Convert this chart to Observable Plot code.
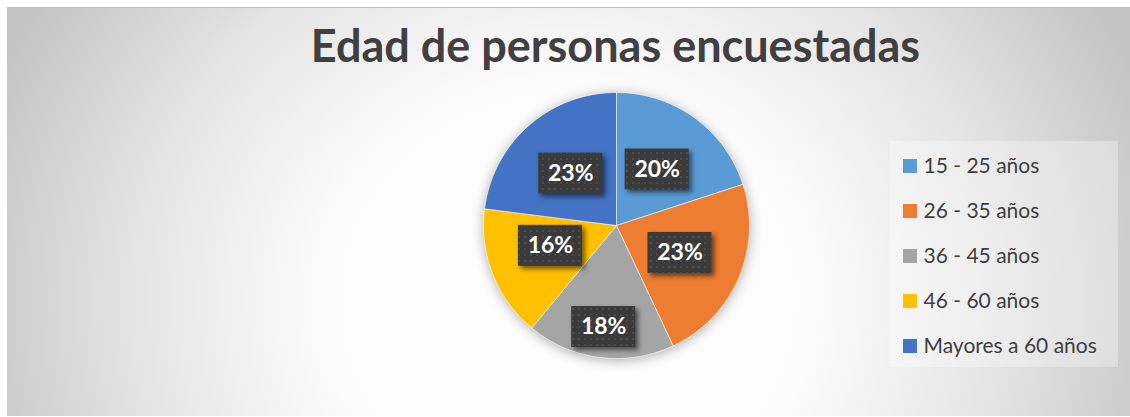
<!DOCTYPE html>
<html>
<head>
<meta charset="utf-8">
<script src="https://cdn.jsdelivr.net/npm/d3@7"></script>
<script src="https://cdn.jsdelivr.net/npm/@observablehq/plot@0.6"></script>
<style>
  html, body { margin: 0; padding: 0; background: #ffffff; }
  #chart { position: relative; width: 1130px; height: 417px; overflow: hidden; }
  #bg {
    position: absolute; left: 7px; top: 7px; width: 1123px; height: 409px;
    box-sizing: border-box;
    border-top: 1.5px solid #bdbdbd;
    background: radial-gradient(ellipse 620px 560px at 561px 293px, #ffffff 0%, #fbfbfb 40%, #e4e4e4 70%, #c4c4c4 100%);
  }
  #chart svg { position: absolute; left: 0; top: 0; }
</style>
</head>
<body>
<div id="chart"><div id="bg"></div></div>
<script>
// ---- data ----
const categories = ["15 - 25 años", "26 - 35 años", "36 - 45 años", "46 - 60 años", "Mayores a 60 años"];
const percentages = [20, 23, 18, 16, 23];
const sliceColors = ["#5B9BD5", "#ED7D31", "#A5A5A5", "#FFC000", "#4472C4"];
const chartTitle = "Edad de personas encuestadas";

// ---- layout constants ----
const W = 1130, H = 417;
const cx = 616, cy = 225, R = 133;
const boxW = 64, boxH = 41;
const legendX = 903, legendTop = 166, rowH = 45, swatch = 14;

const rows = categories.map((c, i) => ({category: c, value: percentages[i]}));
const arcs = d3.pie().sort(null).value(d => d.value)(rows);

// slice outlines (polygon approximations of each wedge)
const slicePts = [];
for (const a of arcs) {
  const n = Math.max(2, Math.ceil((a.endAngle - a.startAngle) / (Math.PI / 180)));
  slicePts.push({category: a.data.category, x: cx, y: cy});
  for (let k = 0; k <= n; k++) {
    const t = a.startAngle + (a.endAngle - a.startAngle) * k / n;
    slicePts.push({category: a.data.category, x: cx + R * Math.sin(t), y: cy - R * Math.cos(t)});
  }
  slicePts.push({category: a.data.category, x: cx, y: cy});
}

// Excel-like "best fit" label placement
function corners(ang, d) {
  const x = Math.sin(ang) * d, y = -Math.cos(ang) * d;
  return [[x - boxW/2, y - boxH/2], [x + boxW/2, y - boxH/2], [x + boxW/2, y + boxH/2], [x - boxW/2, y + boxH/2]];
}
function rel(p, mid) {
  let t = Math.atan2(p[0], -p[1]) - mid;
  while (t > Math.PI) t -= 2 * Math.PI;
  while (t <= -Math.PI) t += 2 * Math.PI;
  return t;
}
function placeLabel(a) {
  const mid = (a.startAngle + a.endAngle) / 2;
  const lo = a.startAngle - mid, hi = a.endAngle - mid;
  let d = 0.52 * R, ang = mid;
  const rs = corners(mid, d).map(p => rel(p, mid));
  const overLo = Math.max(0, lo - d3.min(rs));
  const overHi = Math.max(0, d3.max(rs) - hi);
  if (overLo > 0 && overHi > 0) {
    // inside end
    let a0 = d, a1 = R;
    for (let k = 0; k < 40; k++) {
      const m = (a0 + a1) / 2;
      const far = d3.max(corners(mid, m), p => Math.hypot(p[0], p[1]));
      if (far > R - 3) a1 = m; else a0 = m;
    }
    d = a0;
  } else if (overLo > 0) {
    ang = mid + overLo;
  } else if (overHi > 0) {
    ang = mid - overHi;
  }
  return {
    category: a.data.category,
    text: `${a.data.value}%`,
    x: cx + Math.sin(ang) * d,
    y: cy - Math.cos(ang) * d
  };
}
const labels = arcs.map(placeLabel);

const legendItems = categories.map((c, i) => ({category: c, y: legendTop + i * rowH}));
const legendBox = [{x1: legendX - 13, x2: legendX + 215, y1: legendTop - 25, y2: legendTop + (categories.length - 1) * rowH + 21}];

const svg = Plot.plot({
  width: W, height: H, margin: 0,
  x: {domain: [0, W], range: [0, W], axis: null},
  y: {domain: [0, H], range: [0, H], axis: null},
  color: {domain: categories, range: sliceColors},
  style: {background: "transparent", overflow: "visible"},
  marks: [
    Plot.rect(legendBox, {x1: "x1", x2: "x2", y1: "y1", y2: "y2", fill: "white", fillOpacity: 0.32}),
    Plot.line(slicePts, {x: "x", y: "y", z: "category", fill: "category", stroke: "white", strokeWidth: 1, strokeOpacity: 0.6}),
    Plot.rect(labels, {x1: d => d.x - boxW/2, x2: d => d.x + boxW/2, y1: d => d.y - boxH/2, y2: d => d.y + boxH/2, fill: "#3a3a3a"}),
    Plot.text(labels, {x: "x", y: "y", text: "text", fill: "white", fontSize: 23, fontWeight: "bold", fontFamily: "Lato"}),
    Plot.rect(legendItems, {x1: legendX, x2: legendX + swatch, y1: d => d.y - swatch/2, y2: d => d.y + swatch/2, fill: "category"}),
    Plot.text(legendItems, {x: legendX + swatch + 6, y: "y", text: "category", textAnchor: "start", fill: "#404040", fontSize: 21, fontFamily: "Lato"}),
    Plot.text([chartTitle], {x: cx - 1, y: 30, text: d => d, lineAnchor: "top", fill: "#404040", fontSize: 45, fontWeight: "bold", fontFamily: "Lato"})
  ]
});

// pattern + shadows
const s = d3.select(svg);
const defs = s.insert("defs", ":first-child");
const pat = defs.append("pattern").attr("id", "dots").attr("width", 6).attr("height", 6).attr("patternUnits", "userSpaceOnUse");
pat.append("rect").attr("width", 6).attr("height", 6).attr("fill", "#3a3a3a");
pat.append("circle").attr("cx", 3).attr("cy", 3).attr("r", 0.9).attr("fill", "#555555");
const rectGroups = s.selectAll('g[aria-label="rect"]').nodes();
d3.select(rectGroups[1]).attr("style", "filter: drop-shadow(3px 3px 2.5px rgba(0,0,0,0.55))").selectAll("rect").attr("fill", "url(#dots)");
s.select('g[aria-label="line"]').attr("style", "filter: drop-shadow(0px 2px 6px rgba(0,0,0,0.3))");

document.getElementById("chart").appendChild(svg);
</script>
</body>
</html>
